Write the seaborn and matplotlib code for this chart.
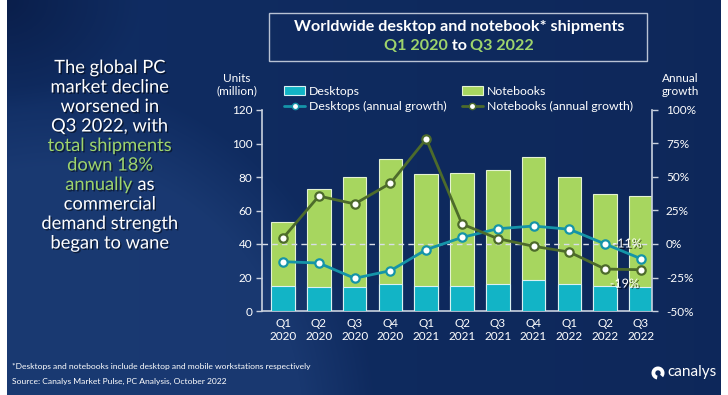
import numpy as np
import pandas as pd
import matplotlib
matplotlib.use('Agg')
import matplotlib.pyplot as plt
import matplotlib.patheffects as pe
import seaborn as sns
from matplotlib.patches import Patch, Rectangle, Wedge
from matplotlib.lines import Line2D

# ---- data ----
quarters = ['Q1\n2020', 'Q2\n2020', 'Q3\n2020', 'Q4\n2020',
            'Q1\n2021', 'Q2\n2021', 'Q3\n2021', 'Q4\n2021',
            'Q1\n2022', 'Q2\n2022', 'Q3\n2022']
desktops = [14.9, 14.1, 14.1, 15.9, 14.9, 14.9, 15.9, 18.5, 15.9, 14.9, 14.1]
notebooks = [38.4, 58.5, 65.7, 74.8, 66.9, 67.4, 68.2, 73.5, 63.9, 55.1, 54.7]
desktop_growth = [-13.2, -14.2, -25.6, -19.9, -4.2, 4.9, 11.4, 13.4, 11.0, 0.0, -11.0]
notebook_growth = [4.5, 35.8, 29.9, 45.3, 78.4, 14.9, 4.0, -1.7, -6.0, -18.7, -19.2]
left_ticks = [0, 20, 40, 60, 80, 100, 120]
right_ticks = [-50, -25, 0, 25, 50, 75, 100]

TEAL = '#12b4c6'
GREEN = '#a7d65f'
TEAL_LINE = '#1594a8'
OLIVE = '#4d6b2b'
ACCENT = '#9ed46c'
GRID = '#c9d1de'

sns.set_style('dark')
plt.rcParams['font.family'] = ['Lato', 'DejaVu Sans']

W, H = 728, 395
fig = plt.figure(figsize=(W / 100, H / 100), dpi=100)

# --- background: navy gradient with a lighter swoosh on the left ---
bg = fig.add_axes([0, 0, 1, 1], zorder=-10)
yy, xx = np.mgrid[0:H, 0:W]
c_main = np.array([0x10, 0x2d, 0x63]) / 255
c_dark = np.array([0x0a, 0x1e, 0x4a]) / 255
c_light = np.array([0x1f, 0x40, 0x7a]) / 255
t = np.clip(xx / W, 0, 1)[..., None]
img = c_main * (1 - 0.35 * t) + c_dark * 0.35 * t
d = np.sqrt(((xx - 60) / 300.0) ** 2 + ((yy - 430) / 330.0) ** 2)
m = np.clip((1.05 - d) * 4, 0, 1)[..., None]
img = img * (1 - 0.65 * m) + c_light * 0.65 * m
corner = np.clip(1 - np.sqrt((xx / 140.0) ** 2 + (yy / 110.0) ** 2), 0, 1)[..., None]
img = img * (1 - corner) + c_dark * corner
img[:, :7] = 1.0
img[:, 721:] = 1.0
bg.imshow(img, extent=[0, W, H, 0], aspect='auto')
bg.set_xlim(0, W)
bg.set_ylim(H, 0)
bg.axis('off')

# --- main axes ---
ax = fig.add_axes([262 / W, 1 - 311 / H, 390 / W, 201 / H])
ax.set_facecolor('none')
df = pd.DataFrame({'quarter': quarters, 'desktops': desktops, 'notebooks': notebooks})
df['total'] = df['desktops'] + df['notebooks']

sns.barplot(data=df, x='quarter', y='total', color=GREEN, saturation=1, width=0.66,
            edgecolor='#e4f2d2', linewidth=0.8, ax=ax, zorder=2)
sns.barplot(data=df, x='quarter', y='desktops', color=TEAL, saturation=1, width=0.66,
            edgecolor='#d9f1f3', linewidth=0.8, ax=ax, zorder=3)

ax.set_xlim(-0.59, 10.31)
ax.set_ylim(0, 120)
ax.set_yticks(left_ticks)
ax.set_xlabel('')
ax.set_ylabel('')
ax.grid(False)
ax.tick_params(axis='x', colors='white', labelsize=8.5, length=0, pad=5)
ax.tick_params(axis='y', colors=GRID, labelcolor='white', labelsize=8.5,
               direction='out', length=4, width=1, pad=3, left=True)
for s in ['top', 'right']:
    ax.spines[s].set_visible(False)
for s in ['left', 'bottom']:
    ax.spines[s].set_color(GRID)
    ax.spines[s].set_linewidth(1.2)
ax.axhline(40, color='#d8dde8', lw=1, ls=(0, (4, 3)), zorder=4)

# --- growth lines on the right axis ---
ax2 = ax.twinx()
ax2.set_facecolor('none')
xs = np.arange(len(quarters))
sns.lineplot(x=xs, y=desktop_growth, ax=ax2, color=TEAL_LINE, lw=2, marker='o',
             markersize=6, markerfacecolor='white', markeredgecolor=TEAL_LINE,
             markeredgewidth=1.6, zorder=5)
sns.lineplot(x=xs, y=notebook_growth, ax=ax2, color=OLIVE, lw=2, marker='o',
             markersize=6, markerfacecolor='white', markeredgecolor=OLIVE,
             markeredgewidth=1.6, zorder=5)
ax2.set_ylim(-50, 100)
ax2.set_yticks(right_ticks)
ax2.set_yticklabels([f'{v}%' for v in right_ticks])
ax2.set_ylabel('')
ax2.grid(False)
ax2.tick_params(axis='y', colors=GRID, labelcolor='white', labelsize=8.5,
                direction='out', length=4, width=1, pad=6, right=True)
for s in ['top', 'left', 'bottom']:
    ax2.spines[s].set_visible(False)
ax2.spines['right'].set_color(GRID)
ax2.spines['right'].set_linewidth(1.2)

shadow = [pe.withSimplePatchShadow(offset=(1, -1), shadow_rgbFace='#000000', alpha=0.6)]
ax2.annotate('-11%', (xs[-1], desktop_growth[-1]), xytext=(-10, 11), textcoords='offset points',
             ha='center', va='center', color='white', fontsize=9, path_effects=shadow, zorder=6)
ax2.annotate('-19%', (xs[-1], notebook_growth[-1]), xytext=(-12, -10), textcoords='offset points',
             ha='center', va='center', color='white', fontsize=9, path_effects=shadow, zorder=6)

# axis titles
fig.text(237 / W, 1 - 85 / H, 'Units\n(million)', ha='center', va='center', color='white',
         fontsize=8.5, linespacing=1.15)
fig.text(680 / W, 1 - 85 / H, 'Annual\ngrowth', ha='center', va='center', color='white',
         fontsize=8.5, linespacing=1.15)

# legend
handles = [
    Patch(facecolor=TEAL, edgecolor='#d9f1f3', lw=0.8),
    Line2D([], [], color=TEAL_LINE, lw=2, marker='o', markersize=4.5,
           markerfacecolor='white', markeredgecolor=TEAL_LINE),
    Patch(facecolor=GREEN, edgecolor='#e4f2d2', lw=0.8),
    Line2D([], [], color=OLIVE, lw=2, marker='o', markersize=4.5,
           markerfacecolor='white', markeredgecolor=OLIVE),
]
labels = ['Desktops', 'Desktops (annual growth)', 'Notebooks', 'Notebooks (annual growth)']
leg = fig.legend(handles, labels, ncol=2, loc='center left',
                 bbox_to_anchor=(278 / W, 1 - 99 / H), frameon=False, fontsize=8.8,
                 handlelength=1.7, handleheight=0.8, handletextpad=0.3,
                 columnspacing=1.3, labelspacing=0.35, borderpad=0)
for txt in leg.get_texts():
    txt.set_color('white')

# --- title box ---
bg.add_patch(Rectangle((269, 13), 378, 48, fill=False, edgecolor='#b8c2d4', lw=1))
bg.text(459, 27, 'Worldwide desktop and notebook* shipments', ha='center', va='center',
        color='white', fontsize=11.6, fontweight='bold')
parts = [('Q1 2020', ACCENT), (' to ', 'white'), ('Q3 2022', ACCENT)]
title2 = ''.join(p for p, _ in parts)
r = fig.canvas.get_renderer()
probe = bg.text(0, 0, title2, fontsize=11.6, fontweight='bold')
total_w = probe.get_window_extent(r).width
probe.remove()
x0 = 459 - total_w / 2
for p, col in parts:
    tt = bg.text(x0, 46, p, ha='left', va='center', color=col, fontsize=11.6, fontweight='bold')
    x0 += tt.get_window_extent(r).width

# --- left commentary ---
lines = [
    [('The global PC', 'white')],
    [('market decline', 'white')],
    [('worsened in', 'white')],
    [('Q3 2022, with', 'white')],
    [('total shipments', ACCENT)],
    [('down 18%', ACCENT)],
    [('annually', ACCENT), (' as', 'white')],
    [('commercial', 'white')],
    [('demand strength', 'white')],
    [('began to wane', 'white')],
]
tshadow = [pe.withSimplePatchShadow(offset=(1, -1), shadow_rgbFace='#000000', alpha=0.5)]
for i, segs in enumerate(lines):
    y = 68 + i * 19.5
    full = ''.join(s for s, _ in segs)
    probe = bg.text(0, 0, full, fontsize=13.2)
    wtot = probe.get_window_extent(r).width
    probe.remove()
    x0 = 110 - wtot / 2
    for s, col in segs:
        tt = bg.text(x0, y, s, ha='left', va='center', color=col, fontsize=13.2,
                     path_effects=tshadow)
        x0 += tt.get_window_extent(r).width

# --- footnotes and logo ---
bg.text(12, 366, '*Desktops and notebooks include desktop and mobile workstations respectively',
        ha='left', va='center', color='white', fontsize=6.1)
bg.text(12, 381, 'Source: Canalys Market Pulse, PC Analysis, October 2022',
        ha='left', va='center', color='white', fontsize=6.1)
bg.add_patch(Wedge((658, 373), 6.5, 100, 400, width=3.8, facecolor='white', edgecolor='none'))
bg.text(667, 372, 'canalys', ha='left', va='center', color='white', fontsize=11)

fig.savefig('out.png', dpi=100)
